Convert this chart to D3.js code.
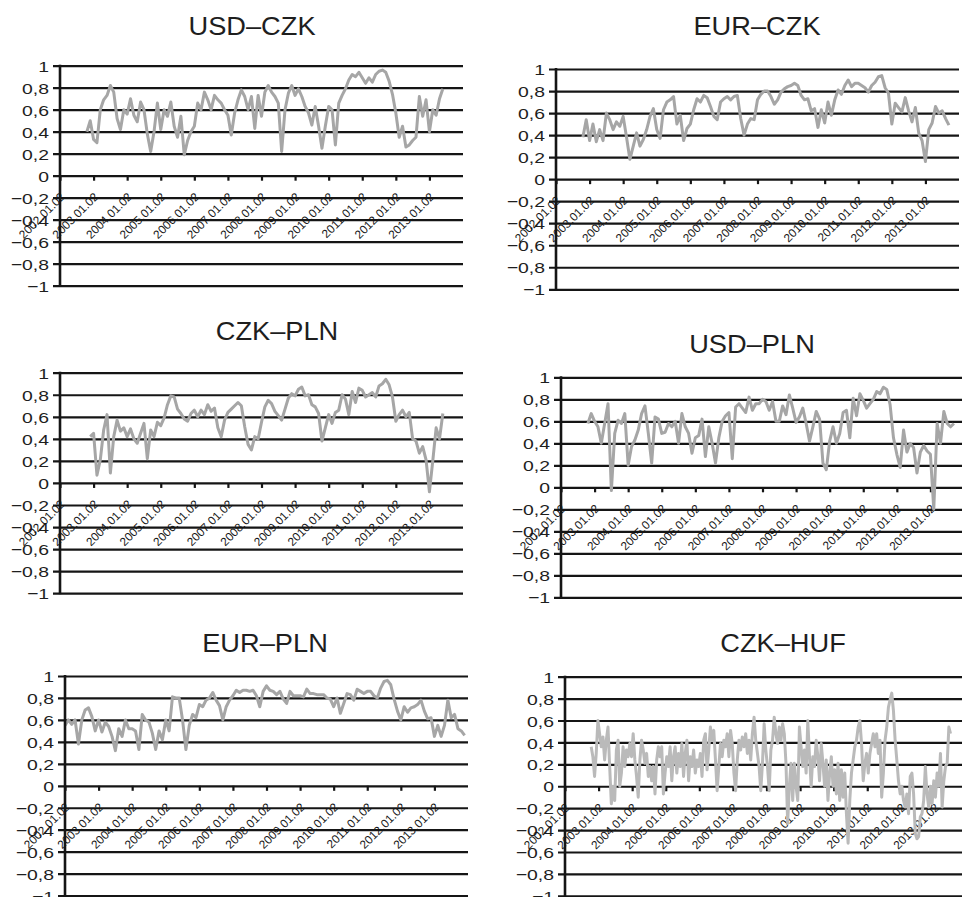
<!DOCTYPE html>
<html>
<head>
<meta charset="utf-8">
<script src="https://cdn.jsdelivr.net/npm/d3@7"></script>
<style>
  html, body { margin: 0; padding: 0; background: #fff; }
  svg { display: block; }
</style>
</head>
<body>
<svg id="chart" width="962" height="897"></svg>
<script>
// Rolling correlations of currency pairs, 2002–2013
const pairNames = ["USD–CZK", "EUR–CZK", "CZK–PLN", "USD–PLN", "EUR–PLN", "CZK–HUF"];
const yearTicks = [2002, 2003, 2004, 2005, 2006, 2007, 2008, 2009, 2010, 2011, 2012, 2013];
const yearLabels = ["2002.01.02", "2003.01.02", "2004.01.02", "2005.01.02", "2006.01.02", "2007.01.02",
                    "2008.01.02", "2009.01.02", "2010.01.02", "2011.01.02", "2012.01.02", "2013.01.02"];
const corrTicks = [1, 0.8, 0.6, 0.4, 0.2, 0, -0.2, -0.4, -0.6, -0.8, -1];

// first observation (decimal year) and sampling step of each series
const seriesStart = [2002.8, 2002.8, 2002.9, 2002.8, 2002.0, 2002.78];
const seriesStep  = [0.1, 0.1, 0.1, 0.1, 0.1, 0.05];

const usdCzk = [
  0.40,0.50,0.33,0.30,0.60,0.69,0.73,0.82,0.76,0.52,
  0.42,0.60,0.56,0.70,0.55,0.49,0.67,0.60,0.38,0.22,
  0.40,0.66,0.42,0.60,0.54,0.67,0.45,0.35,0.54,0.19,
  0.32,0.40,0.45,0.66,0.60,0.76,0.69,0.60,0.73,0.69,
  0.66,0.60,0.55,0.37,0.57,0.69,0.78,0.72,0.60,0.72,
  0.43,0.73,0.54,0.76,0.82,0.76,0.72,0.66,0.22,0.60,
  0.75,0.82,0.73,0.79,0.72,0.63,0.57,0.46,0.63,0.45,
  0.25,0.45,0.63,0.60,0.28,0.66,0.73,0.79,0.87,0.92,
  0.90,0.94,0.89,0.84,0.89,0.85,0.92,0.95,0.96,0.94,
  0.86,0.74,0.57,0.35,0.45,0.26,0.28,0.32,0.35,0.72,
  0.54,0.69,0.40,0.60,0.55,0.70,0.79
];
const eurCzk = [
  0.38,0.54,0.35,0.50,0.34,0.45,0.35,0.60,0.54,0.45,
  0.52,0.48,0.57,0.38,0.18,0.30,0.42,0.30,0.36,0.45,
  0.57,0.64,0.45,0.37,0.63,0.70,0.72,0.75,0.50,0.58,
  0.35,0.46,0.50,0.63,0.73,0.70,0.76,0.74,0.66,0.57,
  0.54,0.70,0.73,0.75,0.72,0.75,0.76,0.55,0.40,0.50,
  0.55,0.54,0.72,0.77,0.80,0.80,0.75,0.68,0.72,0.79,
  0.82,0.84,0.85,0.87,0.85,0.76,0.72,0.73,0.62,0.64,
  0.47,0.63,0.51,0.70,0.58,0.72,0.81,0.77,0.85,0.90,
  0.84,0.87,0.87,0.85,0.83,0.79,0.85,0.88,0.93,0.94,
  0.83,0.78,0.50,0.69,0.65,0.61,0.74,0.62,0.52,0.65,
  0.42,0.35,0.16,0.45,0.51,0.66,0.60,0.62,0.55,0.49
];
const czkPln = [
  0.42,0.45,0.07,0.21,0.48,0.62,0.09,0.42,0.57,0.47,
  0.50,0.42,0.49,0.40,0.36,0.45,0.54,0.22,0.48,0.42,
  0.55,0.52,0.59,0.71,0.79,0.78,0.67,0.63,0.58,0.56,
  0.63,0.66,0.60,0.66,0.62,0.71,0.65,0.68,0.50,0.42,
  0.57,0.64,0.67,0.70,0.73,0.70,0.51,0.35,0.30,0.42,
  0.40,0.55,0.69,0.75,0.72,0.65,0.61,0.57,0.67,0.77,
  0.81,0.79,0.85,0.87,0.79,0.80,0.71,0.69,0.63,0.38,
  0.50,0.62,0.54,0.64,0.66,0.80,0.76,0.62,0.83,0.73,
  0.86,0.84,0.78,0.80,0.82,0.78,0.88,0.90,0.94,0.89,
  0.78,0.56,0.62,0.66,0.60,0.64,0.40,0.38,0.27,0.33,
  0.21,-0.08,0.20,0.50,0.40,0.63
];
const usdPln = [
  0.58,0.67,0.60,0.55,0.40,0.58,0.76,-0.03,0.49,0.61,
  0.58,0.67,0.20,0.37,0.43,0.52,0.67,0.74,0.49,0.22,
  0.64,0.62,0.49,0.50,0.58,0.55,0.60,0.40,0.67,0.55,
  0.49,0.31,0.45,0.47,0.62,0.28,0.55,0.40,0.22,0.45,
  0.60,0.65,0.68,0.26,0.73,0.76,0.72,0.68,0.82,0.70,
  0.76,0.76,0.80,0.78,0.70,0.78,0.60,0.60,0.74,0.66,
  0.84,0.72,0.59,0.64,0.72,0.58,0.42,0.55,0.69,0.62,
  0.22,0.16,0.42,0.55,0.40,0.49,0.68,0.70,0.45,0.81,
  0.65,0.85,0.79,0.72,0.76,0.80,0.87,0.85,0.91,0.89,
  0.75,0.45,0.30,0.18,0.52,0.32,0.40,0.36,0.13,0.32,
  0.38,0.33,0.30,-0.20,0.58,0.40,0.69,0.58,0.55,0.58
];
const eurPln = [
  0.55,0.60,0.56,0.60,0.38,0.60,0.69,0.71,0.63,0.50,
  0.60,0.49,0.58,0.54,0.45,0.32,0.52,0.45,0.60,0.52,
  0.52,0.50,0.33,0.65,0.60,0.58,0.48,0.33,0.50,0.42,
  0.60,0.50,0.81,0.80,0.80,0.60,0.33,0.55,0.65,0.62,
  0.74,0.72,0.78,0.80,0.85,0.78,0.73,0.60,0.72,0.78,
  0.82,0.87,0.85,0.87,0.87,0.86,0.87,0.82,0.72,0.86,
  0.91,0.87,0.86,0.83,0.86,0.79,0.75,0.86,0.82,0.82,
  0.82,0.81,0.88,0.84,0.84,0.83,0.83,0.83,0.80,0.79,
  0.72,0.80,0.66,0.75,0.84,0.83,0.78,0.88,0.86,0.84,
  0.86,0.86,0.82,0.80,0.89,0.95,0.96,0.92,0.79,0.68,
  0.60,0.72,0.67,0.71,0.72,0.74,0.78,0.68,0.61,0.62,
  0.45,0.55,0.45,0.55,0.78,0.62,0.65,0.52,0.50,0.46
];
const czkHuf = [
  0.36,0.27,0.09,0.30,0.60,0.48,0.36,0.45,0.24,0.42,
  0.54,0.18,-0.16,0.00,-0.13,0.33,0.42,0.00,0.12,0.36,
  0.18,0.33,0.27,0.39,0.27,0.48,0.24,0.09,-0.10,0.24,
  0.42,0.33,0.21,0.30,0.09,0.18,0.05,0.18,-0.07,0.24,
  0.36,0.27,0.36,-0.07,0.12,0.27,0.18,0.36,0.05,0.27,
  0.36,0.12,0.30,0.18,0.39,0.09,0.30,0.42,0.05,0.27,
  0.18,0.33,0.12,0.24,0.18,0.30,0.09,0.42,0.48,0.15,
  0.33,0.54,0.42,0.51,0.24,-0.04,0.18,0.39,0.27,0.42,
  0.36,0.48,0.27,0.51,0.39,0.12,-0.04,0.24,0.42,0.33,
  0.45,0.36,0.48,0.30,0.42,0.24,0.48,0.63,0.42,0.30,
  0.18,-0.04,0.21,0.57,0.33,0.18,-0.04,0.33,0.42,0.63,
  0.48,0.39,0.54,0.42,0.57,0.48,0.21,-0.34,0.00,0.21,
  -0.13,0.21,0.00,-0.13,0.54,0.36,0.18,0.33,0.12,0.60,
  0.27,0.00,0.27,0.18,0.42,0.27,0.05,0.39,0.21,0.00,
  0.24,-0.13,0.12,0.27,0.00,0.15,-0.07,0.21,-0.13,0.15,
  -0.10,0.12,-0.25,-0.52,-0.13,0.12,0.24,0.36,0.42,0.54,
  0.60,0.39,0.05,0.21,0.30,0.12,0.30,0.39,0.48,0.36,
  0.48,0.30,0.42,-0.10,0.12,0.42,0.54,0.72,0.79,0.85,
  0.69,0.42,0.24,0.05,-0.07,0.00,-0.13,-0.19,-0.07,-0.25,
  0.09,0.12,-0.07,-0.43,-0.48,-0.46,-0.28,-0.25,-0.13,0.18,
  -0.07,-0.19,0.00,-0.16,0.05,-0.10,0.12,0.00,0.30,-0.19,
  0.05,0.18,0.21,0.54,0.48
];

const seriesValues = [usdCzk, eurCzk, czkPln, usdPln, eurPln, czkHuf];

// ---- layout of the six small multiples ----
const panels = [
  { x0: 60,  top: 65.7,  bottom: 285.7, titleX: 252, titleY: 35 },
  { x0: 556, top: 69,    bottom: 289.3, titleX: 757, titleY: 35 },
  { x0: 60,  top: 372.7, bottom: 593.2, titleX: 277, titleY: 340 },
  { x0: 561, top: 377.3, bottom: 597.3, titleX: 752, titleY: 353 },
  { x0: 65,  top: 676,   bottom: 895.6, titleX: 265, titleY: 652 },
  { x0: 565, top: 676.7, bottom: 895.8, titleX: 783, titleY: 652 }
];
const plotWidth = 403;
const lineColors = ["#a6a6a6", "#a6a6a6", "#a6a6a6", "#a6a6a6", "#a6a6a6", "#bababa"];
const FONT = "'Liberation Sans', Arial, Helvetica, sans-serif";

const fmtCorr = v => {
  if (Math.abs(v) < 1e-9) return "0";
  let s = Math.abs(v).toFixed(1);
  if (s.endsWith(".0")) s = s.slice(0, -2);
  return (v < 0 ? "\u2212" : "") + s.replace(".", ",");
};

const svg = d3.select("#chart");

panels.forEach((p, k) => {
  const x = d3.scaleLinear().domain([2002, 2014]).range([p.x0, p.x0 + plotWidth]);
  const y = d3.scaleLinear().domain([-1, 1]).range([p.bottom, p.top]);
  const g = svg.append("g").attr("class", "panel");

  // title
  g.append("text")
    .attr("transform", `translate(${p.titleX},${p.titleY}) scale(1.09,1)`)
    .attr("text-anchor", "middle")
    .attr("font-family", FONT)
    .attr("font-size", 25)
    .attr("fill", "#1e1e1e")
    .text(pairNames[k]);

  // horizontal gridlines + value labels
  const yAxis = g.append("g")
    .attr("transform", `translate(${p.x0},0)`)
    .call(d3.axisLeft(y).tickValues(corrTicks).tickFormat(fmtCorr)
      .tickSizeInner(-plotWidth).tickSizeOuter(0).tickPadding(0));
  yAxis.select(".domain").remove();
  yAxis.selectAll(".tick line")
    .attr("x1", -7).attr("x2", plotWidth)
    .attr("stroke", "#151515").attr("stroke-width", 2.2);
  yAxis.selectAll(".tick text")
    .attr("font-family", FONT)
    .attr("font-size", 15.5)
    .attr("fill", "#1e1e1e")
    .attr("text-anchor", "end")
    .attr("transform", "scale(1.25,1)")
    .attr("x", -11 / 1.25)
    .attr("dy", "0.36em");

  // date axis sitting on the zero line
  const xAxis = g.append("g")
    .attr("transform", `translate(0,${y(0)})`)
    .call(d3.axisBottom(x).tickValues(yearTicks)
      .tickFormat((d, i) => yearLabels[i]).tickSizeInner(5).tickSizeOuter(0));
  xAxis.select(".domain").remove();
  xAxis.selectAll(".tick line").attr("stroke", "#151515").attr("stroke-width", 2.2);
  xAxis.selectAll(".tick text")
    .attr("font-family", FONT)
    .attr("font-size", 11.8)
    .attr("fill", "#151515")
    .attr("text-anchor", "end")
    .attr("x", 0).attr("y", 0).attr("dy", 0)
    .attr("transform", "translate(5,22) rotate(-45)");

  // correlation series
  const start = seriesStart[k], step = seriesStep[k];
  const line = d3.line()
    .x((d, i) => x(start + i * step))
    .y(d => y(d));
  g.append("path")
    .datum(seriesValues[k])
    .attr("d", line)
    .attr("fill", "none")
    .attr("stroke", lineColors[k])
    .attr("stroke-width", 3)
    .attr("stroke-linejoin", "round");

  // vertical value axis
  g.append("line")
    .attr("x1", p.x0).attr("x2", p.x0)
    .attr("y1", y(1) - 1).attr("y2", y(-1) + 1)
    .attr("stroke", "#151515").attr("stroke-width", 2.6);
});
</script>
</body>
</html>
